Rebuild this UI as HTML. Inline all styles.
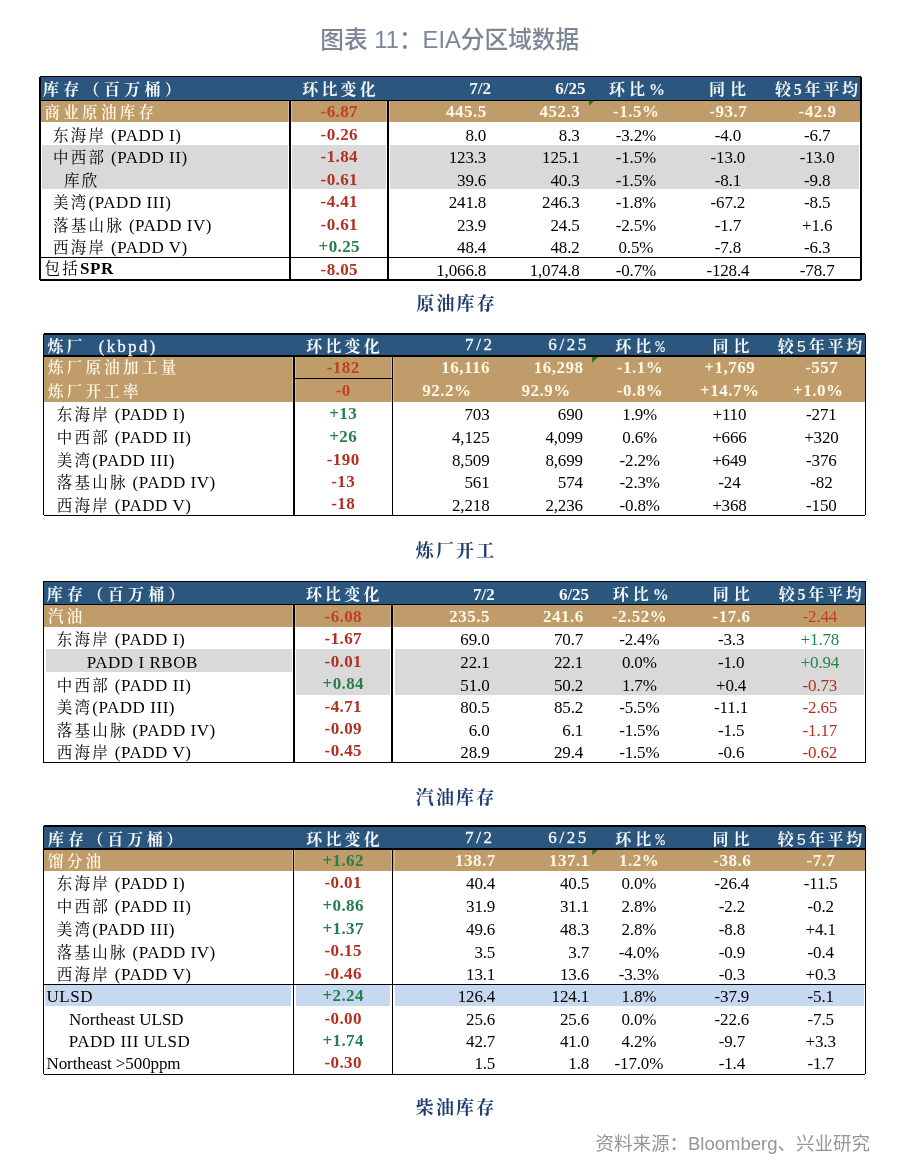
<!DOCTYPE html>
<html><head><meta charset="utf-8"><title>EIA分区域数据</title>
<style>
html,body{margin:0;padding:0;background:#fff;}
body{width:900px;height:1171px;position:relative;overflow:hidden;}
.r{position:absolute;}
.t{position:absolute;white-space:nowrap;line-height:30px;height:30px;}
.c{font-size:15.5px;letter-spacing:2.3px;}
</style></head><body>
<div class="t" style="left:249.8px;width:400px;text-align:center;top:24.8px;font-size:23.7px;color:#7b8696;font-weight:500;letter-spacing:0px;font-family:'Liberation Sans', 'Noto Sans CJK SC', sans-serif;">图表 11：EIA分区域数据</div>
<div class="r" style="left:40.0px;top:76.5px;width:821.0px;height:23.7px;background:#2b567e"></div>
<div class="r" style="left:40.0px;top:100.5px;width:250.0px;height:21.0px;background:#bf9c69"></div>
<div class="r" style="left:290.0px;top:100.5px;width:571.0px;height:21.0px;background:#bf9c69"></div>
<div class="r" style="left:42.0px;top:145.0px;width:245.8px;height:22.0px;background:#d9d9d9"></div>
<div class="r" style="left:292.2px;top:145.0px;width:93.8px;height:22.0px;background:#d9d9d9"></div>
<div class="r" style="left:390.4px;top:145.0px;width:469.1px;height:22.0px;background:#d9d9d9"></div>
<div class="r" style="left:42.0px;top:167.0px;width:245.8px;height:22.0px;background:#d9d9d9"></div>
<div class="r" style="left:292.2px;top:167.0px;width:93.8px;height:22.0px;background:#d9d9d9"></div>
<div class="r" style="left:390.4px;top:167.0px;width:469.1px;height:22.0px;background:#d9d9d9"></div>
<div class="r" style="left:288.1px;top:100.5px;width:1.0px;height:21.0px;background:#d8bc8e"></div>
<div class="r" style="left:290.9px;top:100.5px;width:1.0px;height:21.0px;background:#d8bc8e"></div>
<div class="r" style="left:386.3px;top:100.5px;width:1.0px;height:21.0px;background:#d8bc8e"></div>
<div class="r" style="left:389.1px;top:100.5px;width:1.0px;height:21.0px;background:#d8bc8e"></div>
<div class="r" style="left:40.0px;top:75.8px;width:821.0px;height:1.5px;background:#000"></div>
<div class="r" style="left:40.0px;top:99.5px;width:821.0px;height:1.5px;background:#000"></div>
<div class="r" style="left:40.0px;top:279.1px;width:821.0px;height:1.5px;background:#000"></div>
<div class="r" style="left:39.3px;top:76.5px;width:1.4px;height:203.4px;background:#000"></div>
<div class="r" style="left:860.3px;top:76.5px;width:1.4px;height:203.4px;background:#000"></div>
<div class="r" style="left:289.1px;top:100.2px;width:1.8px;height:179.7px;background:#000"></div>
<div class="r" style="left:387.3px;top:100.2px;width:1.8px;height:179.7px;background:#000"></div>
<div class="r" style="left:40.0px;top:256.6px;width:821.0px;height:1.5px;background:#000"></div>
<div class="t" style="left:43.0px;top:74.6px;font-size:16px;color:#f4f8fc;font-weight:bold;letter-spacing:4.3px;font-family:'Liberation Serif', 'Noto Serif CJK SC', serif;">库存（百万桶）</div>
<div class="t" style="left:140.6px;width:400px;text-align:center;top:74.6px;font-size:16px;color:#f4f8fc;font-weight:bold;letter-spacing:3.2px;font-family:'Liberation Serif', 'Noto Serif CJK SC', serif;">环比变化</div>
<div class="t" style="right:409.0px;text-align:right;top:74.3px;font-size:17px;color:#f4f8fc;font-weight:bold;letter-spacing:0px;font-family:'Liberation Serif', 'Noto Serif CJK SC', serif;">7/2</div>
<div class="t" style="right:314.6px;text-align:right;top:74.3px;font-size:17px;color:#f4f8fc;font-weight:bold;letter-spacing:0px;font-family:'Liberation Serif', 'Noto Serif CJK SC', serif;">6/25</div>
<div class="t" style="left:439.0px;width:400px;text-align:center;top:74.6px;font-size:16px;color:#f4f8fc;font-weight:bold;letter-spacing:4px;font-family:'Liberation Serif', 'Noto Serif CJK SC', serif;">环比%</div>
<div class="t" style="left:530.0px;width:400px;text-align:center;top:74.6px;font-size:16px;color:#f4f8fc;font-weight:bold;letter-spacing:5px;font-family:'Liberation Serif', 'Noto Serif CJK SC', serif;">同比</div>
<div class="t" style="left:617.9px;width:400px;text-align:center;top:74.6px;font-size:16px;color:#f4f8fc;font-weight:bold;letter-spacing:2.75px;font-family:'Liberation Serif', 'Noto Serif CJK SC', serif;">较5年平均</div>
<div class="t" style="left:44.5px;top:97.9px;font-size:15.5px;color:#fff8e8;font-weight:600;letter-spacing:3.3px;font-family:'Liberation Serif', 'Noto Serif CJK SC', serif;">商业原油库存</div>
<div class="t" style="left:139.3px;width:400px;text-align:center;top:97.1px;font-size:17px;color:#c4401c;font-weight:bold;letter-spacing:0.4px;font-family:'Liberation Serif', 'Noto Serif CJK SC', serif;">-6.87</div>
<div class="t" style="right:413.2px;text-align:right;top:97.1px;font-size:17px;color:#fff8e8;font-weight:bold;letter-spacing:0.5px;font-family:'Liberation Serif', 'Noto Serif CJK SC', serif;">445.5</div>
<div class="t" style="right:319.7px;text-align:right;top:97.1px;font-size:17px;color:#fff8e8;font-weight:bold;letter-spacing:0.5px;font-family:'Liberation Serif', 'Noto Serif CJK SC', serif;">452.3</div>
<div class="t" style="left:436.2px;width:400px;text-align:center;top:97.1px;font-size:17px;color:#fff8e8;font-weight:bold;letter-spacing:0.5px;font-family:'Liberation Serif', 'Noto Serif CJK SC', serif;">-1.5%</div>
<div class="t" style="left:528.2px;width:400px;text-align:center;top:97.1px;font-size:17px;color:#fff8e8;font-weight:bold;letter-spacing:0.5px;font-family:'Liberation Serif', 'Noto Serif CJK SC', serif;">-93.7</div>
<div class="t" style="left:617.5px;width:400px;text-align:center;top:97.1px;font-size:17px;color:#fff8e8;font-weight:bold;letter-spacing:0.5px;font-family:'Liberation Serif', 'Noto Serif CJK SC', serif;">-42.9</div>
<div class="t" style="left:53.0px;top:120.7px;font-size:17px;color:#000;font-weight:normal;letter-spacing:0.55px;font-family:'Liberation Serif', 'Noto Serif CJK SC', serif;"><span class="c">东海岸</span><span style="display:inline-block;width:4.7px"></span>(PADD I)</div>
<div class="t" style="left:139.3px;width:400px;text-align:center;top:119.5px;font-size:17px;color:#b03022;font-weight:bold;letter-spacing:0.4px;font-family:'Liberation Serif', 'Noto Serif CJK SC', serif;">-0.26</div>
<div class="t" style="right:413.8px;text-align:right;top:120.7px;font-size:17px;color:#000;font-weight:normal;letter-spacing:-0.15px;font-family:'Liberation Serif', 'Noto Serif CJK SC', serif;">8.0</div>
<div class="t" style="right:320.4px;text-align:right;top:120.7px;font-size:17px;color:#000;font-weight:normal;letter-spacing:-0.15px;font-family:'Liberation Serif', 'Noto Serif CJK SC', serif;">8.3</div>
<div class="t" style="left:435.9px;width:400px;text-align:center;top:120.7px;font-size:17px;color:#000;font-weight:normal;letter-spacing:-0.15px;font-family:'Liberation Serif', 'Noto Serif CJK SC', serif;">-3.2%</div>
<div class="t" style="left:527.9px;width:400px;text-align:center;top:120.7px;font-size:17px;color:#000;font-weight:normal;letter-spacing:-0.15px;font-family:'Liberation Serif', 'Noto Serif CJK SC', serif;">-4.0</div>
<div class="t" style="left:617.2px;width:400px;text-align:center;top:120.7px;font-size:17px;color:#000;font-weight:normal;letter-spacing:-0.15px;font-family:'Liberation Serif', 'Noto Serif CJK SC', serif;">-6.7</div>
<div class="t" style="left:53.0px;top:143.1px;font-size:17px;color:#000;font-weight:normal;letter-spacing:0.55px;font-family:'Liberation Serif', 'Noto Serif CJK SC', serif;"><span class="c">中西部</span><span style="display:inline-block;width:4.7px"></span>(PADD II)</div>
<div class="t" style="left:139.3px;width:400px;text-align:center;top:141.9px;font-size:17px;color:#b03022;font-weight:bold;letter-spacing:0.4px;font-family:'Liberation Serif', 'Noto Serif CJK SC', serif;">-1.84</div>
<div class="t" style="right:413.8px;text-align:right;top:143.1px;font-size:17px;color:#000;font-weight:normal;letter-spacing:-0.15px;font-family:'Liberation Serif', 'Noto Serif CJK SC', serif;">123.3</div>
<div class="t" style="right:320.4px;text-align:right;top:143.1px;font-size:17px;color:#000;font-weight:normal;letter-spacing:-0.15px;font-family:'Liberation Serif', 'Noto Serif CJK SC', serif;">125.1</div>
<div class="t" style="left:435.9px;width:400px;text-align:center;top:143.1px;font-size:17px;color:#000;font-weight:normal;letter-spacing:-0.15px;font-family:'Liberation Serif', 'Noto Serif CJK SC', serif;">-1.5%</div>
<div class="t" style="left:527.9px;width:400px;text-align:center;top:143.1px;font-size:17px;color:#000;font-weight:normal;letter-spacing:-0.15px;font-family:'Liberation Serif', 'Noto Serif CJK SC', serif;">-13.0</div>
<div class="t" style="left:617.2px;width:400px;text-align:center;top:143.1px;font-size:17px;color:#000;font-weight:normal;letter-spacing:-0.15px;font-family:'Liberation Serif', 'Noto Serif CJK SC', serif;">-13.0</div>
<div class="t" style="left:64.0px;top:165.8px;font-size:17px;color:#000;font-weight:normal;letter-spacing:2px;font-family:'Liberation Serif', 'Noto Serif CJK SC', serif;"><span class="c">库欣</span></div>
<div class="t" style="left:139.3px;width:400px;text-align:center;top:164.6px;font-size:17px;color:#b03022;font-weight:bold;letter-spacing:0.4px;font-family:'Liberation Serif', 'Noto Serif CJK SC', serif;">-0.61</div>
<div class="t" style="right:413.8px;text-align:right;top:165.8px;font-size:17px;color:#000;font-weight:normal;letter-spacing:-0.15px;font-family:'Liberation Serif', 'Noto Serif CJK SC', serif;">39.6</div>
<div class="t" style="right:320.4px;text-align:right;top:165.8px;font-size:17px;color:#000;font-weight:normal;letter-spacing:-0.15px;font-family:'Liberation Serif', 'Noto Serif CJK SC', serif;">40.3</div>
<div class="t" style="left:435.9px;width:400px;text-align:center;top:165.8px;font-size:17px;color:#000;font-weight:normal;letter-spacing:-0.15px;font-family:'Liberation Serif', 'Noto Serif CJK SC', serif;">-1.5%</div>
<div class="t" style="left:527.9px;width:400px;text-align:center;top:165.8px;font-size:17px;color:#000;font-weight:normal;letter-spacing:-0.15px;font-family:'Liberation Serif', 'Noto Serif CJK SC', serif;">-8.1</div>
<div class="t" style="left:617.2px;width:400px;text-align:center;top:165.8px;font-size:17px;color:#000;font-weight:normal;letter-spacing:-0.15px;font-family:'Liberation Serif', 'Noto Serif CJK SC', serif;">-9.8</div>
<div class="t" style="left:53.0px;top:188.2px;font-size:17px;color:#000;font-weight:normal;letter-spacing:0.55px;font-family:'Liberation Serif', 'Noto Serif CJK SC', serif;"><span class="c">美湾</span>(PADD III)</div>
<div class="t" style="left:139.3px;width:400px;text-align:center;top:187.0px;font-size:17px;color:#b03022;font-weight:bold;letter-spacing:0.4px;font-family:'Liberation Serif', 'Noto Serif CJK SC', serif;">-4.41</div>
<div class="t" style="right:413.8px;text-align:right;top:188.2px;font-size:17px;color:#000;font-weight:normal;letter-spacing:-0.15px;font-family:'Liberation Serif', 'Noto Serif CJK SC', serif;">241.8</div>
<div class="t" style="right:320.4px;text-align:right;top:188.2px;font-size:17px;color:#000;font-weight:normal;letter-spacing:-0.15px;font-family:'Liberation Serif', 'Noto Serif CJK SC', serif;">246.3</div>
<div class="t" style="left:435.9px;width:400px;text-align:center;top:188.2px;font-size:17px;color:#000;font-weight:normal;letter-spacing:-0.15px;font-family:'Liberation Serif', 'Noto Serif CJK SC', serif;">-1.8%</div>
<div class="t" style="left:527.9px;width:400px;text-align:center;top:188.2px;font-size:17px;color:#000;font-weight:normal;letter-spacing:-0.15px;font-family:'Liberation Serif', 'Noto Serif CJK SC', serif;">-67.2</div>
<div class="t" style="left:617.2px;width:400px;text-align:center;top:188.2px;font-size:17px;color:#000;font-weight:normal;letter-spacing:-0.15px;font-family:'Liberation Serif', 'Noto Serif CJK SC', serif;">-8.5</div>
<div class="t" style="left:53.0px;top:210.9px;font-size:17px;color:#000;font-weight:normal;letter-spacing:0.55px;font-family:'Liberation Serif', 'Noto Serif CJK SC', serif;"><span class="c">落基山脉</span><span style="display:inline-block;width:4.7px"></span>(PADD IV)</div>
<div class="t" style="left:139.3px;width:400px;text-align:center;top:209.7px;font-size:17px;color:#b03022;font-weight:bold;letter-spacing:0.4px;font-family:'Liberation Serif', 'Noto Serif CJK SC', serif;">-0.61</div>
<div class="t" style="right:413.8px;text-align:right;top:210.9px;font-size:17px;color:#000;font-weight:normal;letter-spacing:-0.15px;font-family:'Liberation Serif', 'Noto Serif CJK SC', serif;">23.9</div>
<div class="t" style="right:320.4px;text-align:right;top:210.9px;font-size:17px;color:#000;font-weight:normal;letter-spacing:-0.15px;font-family:'Liberation Serif', 'Noto Serif CJK SC', serif;">24.5</div>
<div class="t" style="left:435.9px;width:400px;text-align:center;top:210.9px;font-size:17px;color:#000;font-weight:normal;letter-spacing:-0.15px;font-family:'Liberation Serif', 'Noto Serif CJK SC', serif;">-2.5%</div>
<div class="t" style="left:527.9px;width:400px;text-align:center;top:210.9px;font-size:17px;color:#000;font-weight:normal;letter-spacing:-0.15px;font-family:'Liberation Serif', 'Noto Serif CJK SC', serif;">-1.7</div>
<div class="t" style="left:617.2px;width:400px;text-align:center;top:210.9px;font-size:17px;color:#000;font-weight:normal;letter-spacing:-0.15px;font-family:'Liberation Serif', 'Noto Serif CJK SC', serif;">+1.6</div>
<div class="t" style="left:53.0px;top:233.2px;font-size:17px;color:#000;font-weight:normal;letter-spacing:0.55px;font-family:'Liberation Serif', 'Noto Serif CJK SC', serif;"><span class="c">西海岸</span><span style="display:inline-block;width:4.7px"></span>(PADD V)</div>
<div class="t" style="left:139.3px;width:400px;text-align:center;top:232.0px;font-size:17px;color:#257f4b;font-weight:bold;letter-spacing:0.4px;font-family:'Liberation Serif', 'Noto Serif CJK SC', serif;">+0.25</div>
<div class="t" style="right:413.8px;text-align:right;top:233.2px;font-size:17px;color:#000;font-weight:normal;letter-spacing:-0.15px;font-family:'Liberation Serif', 'Noto Serif CJK SC', serif;">48.4</div>
<div class="t" style="right:320.4px;text-align:right;top:233.2px;font-size:17px;color:#000;font-weight:normal;letter-spacing:-0.15px;font-family:'Liberation Serif', 'Noto Serif CJK SC', serif;">48.2</div>
<div class="t" style="left:435.9px;width:400px;text-align:center;top:233.2px;font-size:17px;color:#000;font-weight:normal;letter-spacing:-0.15px;font-family:'Liberation Serif', 'Noto Serif CJK SC', serif;">0.5%</div>
<div class="t" style="left:527.9px;width:400px;text-align:center;top:233.2px;font-size:17px;color:#000;font-weight:normal;letter-spacing:-0.15px;font-family:'Liberation Serif', 'Noto Serif CJK SC', serif;">-7.8</div>
<div class="t" style="left:617.2px;width:400px;text-align:center;top:233.2px;font-size:17px;color:#000;font-weight:normal;letter-spacing:-0.15px;font-family:'Liberation Serif', 'Noto Serif CJK SC', serif;">-6.3</div>
<div class="t" style="left:44.5px;top:254.4px;font-size:17px;color:#000;font-weight:normal;letter-spacing:0.55px;font-family:'Liberation Serif', 'Noto Serif CJK SC', serif;"><span class="c">包括</span><b>SPR</b></div>
<div class="t" style="left:139.3px;width:400px;text-align:center;top:254.7px;font-size:17px;color:#b03022;font-weight:bold;letter-spacing:0.4px;font-family:'Liberation Serif', 'Noto Serif CJK SC', serif;">-8.05</div>
<div class="t" style="right:413.8px;text-align:right;top:255.9px;font-size:17px;color:#000;font-weight:normal;letter-spacing:-0.15px;font-family:'Liberation Serif', 'Noto Serif CJK SC', serif;">1,066.8</div>
<div class="t" style="right:320.4px;text-align:right;top:255.9px;font-size:17px;color:#000;font-weight:normal;letter-spacing:-0.15px;font-family:'Liberation Serif', 'Noto Serif CJK SC', serif;">1,074.8</div>
<div class="t" style="left:435.9px;width:400px;text-align:center;top:255.9px;font-size:17px;color:#000;font-weight:normal;letter-spacing:-0.15px;font-family:'Liberation Serif', 'Noto Serif CJK SC', serif;">-0.7%</div>
<div class="t" style="left:527.9px;width:400px;text-align:center;top:255.9px;font-size:17px;color:#000;font-weight:normal;letter-spacing:-0.15px;font-family:'Liberation Serif', 'Noto Serif CJK SC', serif;">-128.4</div>
<div class="t" style="left:617.2px;width:400px;text-align:center;top:255.9px;font-size:17px;color:#000;font-weight:normal;letter-spacing:-0.15px;font-family:'Liberation Serif', 'Noto Serif CJK SC', serif;">-78.7</div>
<div class="r" style="left:589.0px;top:100.6px;width:5.5px;height:5.5px;background:#2a7a1a;clip-path:polygon(0 0,100% 0,0 100%)"></div>
<div class="t" style="left:256.6px;width:400px;text-align:center;top:289.0px;font-size:18px;color:#1f3b70;font-weight:bold;letter-spacing:2.2px;font-family:'Liberation Serif', 'Noto Serif CJK SC', serif;">原油库存</div>
<div class="r" style="left:43.7px;top:333.8px;width:821.6px;height:22.2px;background:#2b567e"></div>
<div class="r" style="left:43.7px;top:356.5px;width:821.6px;height:22.0px;background:#bf9c69"></div>
<div class="r" style="left:43.7px;top:378.5px;width:821.6px;height:23.0px;background:#bf9c69"></div>
<div class="r" style="left:291.8px;top:356.5px;width:1.0px;height:22.0px;background:#d8bc8e"></div>
<div class="r" style="left:294.6px;top:356.5px;width:1.0px;height:22.0px;background:#d8bc8e"></div>
<div class="r" style="left:390.5px;top:356.5px;width:1.0px;height:22.0px;background:#d8bc8e"></div>
<div class="r" style="left:393.3px;top:356.5px;width:1.0px;height:22.0px;background:#d8bc8e"></div>
<div class="r" style="left:291.8px;top:378.5px;width:1.0px;height:23.0px;background:#d8bc8e"></div>
<div class="r" style="left:294.6px;top:378.5px;width:1.0px;height:23.0px;background:#d8bc8e"></div>
<div class="r" style="left:390.5px;top:378.5px;width:1.0px;height:23.0px;background:#d8bc8e"></div>
<div class="r" style="left:393.3px;top:378.5px;width:1.0px;height:23.0px;background:#d8bc8e"></div>
<div class="r" style="left:43.7px;top:333.1px;width:821.6px;height:1.5px;background:#000"></div>
<div class="r" style="left:43.7px;top:355.2px;width:821.6px;height:1.5px;background:#000"></div>
<div class="r" style="left:43.7px;top:514.5px;width:821.6px;height:1.5px;background:#000"></div>
<div class="r" style="left:43.0px;top:333.8px;width:1.4px;height:181.4px;background:#000"></div>
<div class="r" style="left:864.6px;top:333.8px;width:1.4px;height:181.4px;background:#000"></div>
<div class="r" style="left:292.8px;top:356.0px;width:1.8px;height:159.2px;background:#000"></div>
<div class="r" style="left:391.5px;top:356.0px;width:1.8px;height:159.2px;background:#000"></div>
<div class="r" style="left:293.7px;top:377.6px;width:98.7px;height:1.5px;background:#000"></div>
<div class="t" style="left:47.5px;top:331.9px;font-size:16px;color:#f4f8fc;font-weight:bold;letter-spacing:2.9px;font-family:'Liberation Serif', 'Noto Serif CJK SC', serif;">炼厂<span style="font-family:Liberation Serif, serif;font-size:16.5px;letter-spacing:2.5px;font-weight:normal;margin-left:13.5px;-webkit-text-stroke:0.3px #f4f8fc">(kbpd)</span></div>
<div class="t" style="left:144.6px;width:400px;text-align:center;top:331.9px;font-size:16px;color:#f4f8fc;font-weight:bold;letter-spacing:3.2px;font-family:'Liberation Serif', 'Noto Serif CJK SC', serif;">环比变化</div>
<div class="t" style="right:405.4px;text-align:right;top:330.0px;font-size:17px;color:#f4f8fc;font-weight:normal;letter-spacing:2.6px;font-family:'Liberation Serif', 'Noto Serif CJK SC', serif;-webkit-text-stroke:0.3px #f4f8fc;">7/2</div>
<div class="t" style="right:311.1px;text-align:right;top:330.0px;font-size:17px;color:#f4f8fc;font-weight:normal;letter-spacing:2.6px;font-family:'Liberation Serif', 'Noto Serif CJK SC', serif;-webkit-text-stroke:0.3px #f4f8fc;">6/25</div>
<div class="t" style="left:442.0px;width:400px;text-align:center;top:331.9px;font-size:16px;color:#f4f8fc;font-weight:bold;letter-spacing:4px;font-family:'Liberation Serif', 'Noto Serif CJK SC', serif;">环比<span style="font-family:Liberation Mono, monospace;font-weight:normal">%</span></div>
<div class="t" style="left:533.5px;width:400px;text-align:center;top:331.9px;font-size:16px;color:#f4f8fc;font-weight:bold;letter-spacing:5px;font-family:'Liberation Serif', 'Noto Serif CJK SC', serif;">同比</div>
<div class="t" style="left:621.4px;width:400px;text-align:center;top:331.9px;font-size:16px;color:#f4f8fc;font-weight:bold;letter-spacing:2.75px;font-family:'Liberation Serif', 'Noto Serif CJK SC', serif;">较<span style="font-family:Liberation Mono, monospace;font-weight:normal">5</span>年平均</div>
<div class="t" style="left:47.9px;top:353.4px;font-size:15.5px;color:#fff8e8;font-weight:600;letter-spacing:3.3px;font-family:'Liberation Serif', 'Noto Serif CJK SC', serif;">炼厂原油加工量</div>
<div class="t" style="left:143.2px;width:400px;text-align:center;top:352.6px;font-size:17px;color:#c4401c;font-weight:bold;letter-spacing:0.4px;font-family:'Liberation Serif', 'Noto Serif CJK SC', serif;">-182</div>
<div class="t" style="right:409.9px;text-align:right;top:352.6px;font-size:17px;color:#fff8e8;font-weight:bold;letter-spacing:0.5px;font-family:'Liberation Serif', 'Noto Serif CJK SC', serif;">16,116</div>
<div class="t" style="right:316.5px;text-align:right;top:352.6px;font-size:17px;color:#fff8e8;font-weight:bold;letter-spacing:0.5px;font-family:'Liberation Serif', 'Noto Serif CJK SC', serif;">16,298</div>
<div class="t" style="left:440.0px;width:400px;text-align:center;top:352.6px;font-size:17px;color:#fff8e8;font-weight:bold;letter-spacing:0.5px;font-family:'Liberation Serif', 'Noto Serif CJK SC', serif;">-1.1%</div>
<div class="t" style="left:529.8px;width:400px;text-align:center;top:352.6px;font-size:17px;color:#fff8e8;font-weight:bold;letter-spacing:0.5px;font-family:'Liberation Serif', 'Noto Serif CJK SC', serif;">+1,769</div>
<div class="t" style="left:621.8px;width:400px;text-align:center;top:352.6px;font-size:17px;color:#fff8e8;font-weight:bold;letter-spacing:0.5px;font-family:'Liberation Serif', 'Noto Serif CJK SC', serif;">-557</div>
<div class="t" style="left:47.9px;top:376.6px;font-size:15.5px;color:#fff8e8;font-weight:600;letter-spacing:3.3px;font-family:'Liberation Serif', 'Noto Serif CJK SC', serif;">炼厂开工率</div>
<div class="t" style="left:143.2px;width:400px;text-align:center;top:375.8px;font-size:17px;color:#c4401c;font-weight:bold;letter-spacing:0.4px;font-family:'Liberation Serif', 'Noto Serif CJK SC', serif;">-0</div>
<div class="t" style="right:428.5px;text-align:right;top:375.8px;font-size:17px;color:#fff8e8;font-weight:bold;letter-spacing:0.5px;font-family:'Liberation Serif', 'Noto Serif CJK SC', serif;">92.2%</div>
<div class="t" style="right:329.2px;text-align:right;top:375.8px;font-size:17px;color:#fff8e8;font-weight:bold;letter-spacing:0.5px;font-family:'Liberation Serif', 'Noto Serif CJK SC', serif;">92.9%</div>
<div class="t" style="left:440.0px;width:400px;text-align:center;top:375.8px;font-size:17px;color:#fff8e8;font-weight:bold;letter-spacing:0.5px;font-family:'Liberation Serif', 'Noto Serif CJK SC', serif;">-0.8%</div>
<div class="t" style="left:529.8px;width:400px;text-align:center;top:375.8px;font-size:17px;color:#fff8e8;font-weight:bold;letter-spacing:0.5px;font-family:'Liberation Serif', 'Noto Serif CJK SC', serif;">+14.7%</div>
<div class="t" style="left:618.2px;width:400px;text-align:center;top:375.8px;font-size:17px;color:#fff8e8;font-weight:bold;letter-spacing:0.5px;font-family:'Liberation Serif', 'Noto Serif CJK SC', serif;">+1.0%</div>
<div class="t" style="left:56.7px;top:400.4px;font-size:17px;color:#000;font-weight:normal;letter-spacing:0.55px;font-family:'Liberation Serif', 'Noto Serif CJK SC', serif;"><span class="c">东海岸</span><span style="display:inline-block;width:4.7px"></span>(PADD I)</div>
<div class="t" style="left:143.2px;width:400px;text-align:center;top:399.2px;font-size:17px;color:#257f4b;font-weight:bold;letter-spacing:0.4px;font-family:'Liberation Serif', 'Noto Serif CJK SC', serif;">+13</div>
<div class="t" style="right:410.5px;text-align:right;top:400.4px;font-size:17px;color:#000;font-weight:normal;letter-spacing:-0.15px;font-family:'Liberation Serif', 'Noto Serif CJK SC', serif;">703</div>
<div class="t" style="right:317.1px;text-align:right;top:400.4px;font-size:17px;color:#000;font-weight:normal;letter-spacing:-0.15px;font-family:'Liberation Serif', 'Noto Serif CJK SC', serif;">690</div>
<div class="t" style="left:439.7px;width:400px;text-align:center;top:400.4px;font-size:17px;color:#000;font-weight:normal;letter-spacing:-0.15px;font-family:'Liberation Serif', 'Noto Serif CJK SC', serif;">1.9%</div>
<div class="t" style="left:529.4px;width:400px;text-align:center;top:400.4px;font-size:17px;color:#000;font-weight:normal;letter-spacing:-0.15px;font-family:'Liberation Serif', 'Noto Serif CJK SC', serif;">+110</div>
<div class="t" style="left:621.4px;width:400px;text-align:center;top:400.4px;font-size:17px;color:#000;font-weight:normal;letter-spacing:-0.15px;font-family:'Liberation Serif', 'Noto Serif CJK SC', serif;">-271</div>
<div class="t" style="left:56.7px;top:423.1px;font-size:17px;color:#000;font-weight:normal;letter-spacing:0.55px;font-family:'Liberation Serif', 'Noto Serif CJK SC', serif;"><span class="c">中西部</span><span style="display:inline-block;width:4.7px"></span>(PADD II)</div>
<div class="t" style="left:143.2px;width:400px;text-align:center;top:421.9px;font-size:17px;color:#257f4b;font-weight:bold;letter-spacing:0.4px;font-family:'Liberation Serif', 'Noto Serif CJK SC', serif;">+26</div>
<div class="t" style="right:410.5px;text-align:right;top:423.1px;font-size:17px;color:#000;font-weight:normal;letter-spacing:-0.15px;font-family:'Liberation Serif', 'Noto Serif CJK SC', serif;">4,125</div>
<div class="t" style="right:317.1px;text-align:right;top:423.1px;font-size:17px;color:#000;font-weight:normal;letter-spacing:-0.15px;font-family:'Liberation Serif', 'Noto Serif CJK SC', serif;">4,099</div>
<div class="t" style="left:439.7px;width:400px;text-align:center;top:423.1px;font-size:17px;color:#000;font-weight:normal;letter-spacing:-0.15px;font-family:'Liberation Serif', 'Noto Serif CJK SC', serif;">0.6%</div>
<div class="t" style="left:529.4px;width:400px;text-align:center;top:423.1px;font-size:17px;color:#000;font-weight:normal;letter-spacing:-0.15px;font-family:'Liberation Serif', 'Noto Serif CJK SC', serif;">+666</div>
<div class="t" style="left:621.4px;width:400px;text-align:center;top:423.1px;font-size:17px;color:#000;font-weight:normal;letter-spacing:-0.15px;font-family:'Liberation Serif', 'Noto Serif CJK SC', serif;">+320</div>
<div class="t" style="left:56.7px;top:445.8px;font-size:17px;color:#000;font-weight:normal;letter-spacing:0.55px;font-family:'Liberation Serif', 'Noto Serif CJK SC', serif;"><span class="c">美湾</span>(PADD III)</div>
<div class="t" style="left:143.2px;width:400px;text-align:center;top:444.6px;font-size:17px;color:#b03022;font-weight:bold;letter-spacing:0.4px;font-family:'Liberation Serif', 'Noto Serif CJK SC', serif;">-190</div>
<div class="t" style="right:410.5px;text-align:right;top:445.8px;font-size:17px;color:#000;font-weight:normal;letter-spacing:-0.15px;font-family:'Liberation Serif', 'Noto Serif CJK SC', serif;">8,509</div>
<div class="t" style="right:317.1px;text-align:right;top:445.8px;font-size:17px;color:#000;font-weight:normal;letter-spacing:-0.15px;font-family:'Liberation Serif', 'Noto Serif CJK SC', serif;">8,699</div>
<div class="t" style="left:439.7px;width:400px;text-align:center;top:445.8px;font-size:17px;color:#000;font-weight:normal;letter-spacing:-0.15px;font-family:'Liberation Serif', 'Noto Serif CJK SC', serif;">-2.2%</div>
<div class="t" style="left:529.4px;width:400px;text-align:center;top:445.8px;font-size:17px;color:#000;font-weight:normal;letter-spacing:-0.15px;font-family:'Liberation Serif', 'Noto Serif CJK SC', serif;">+649</div>
<div class="t" style="left:621.4px;width:400px;text-align:center;top:445.8px;font-size:17px;color:#000;font-weight:normal;letter-spacing:-0.15px;font-family:'Liberation Serif', 'Noto Serif CJK SC', serif;">-376</div>
<div class="t" style="left:56.7px;top:468.1px;font-size:17px;color:#000;font-weight:normal;letter-spacing:0.55px;font-family:'Liberation Serif', 'Noto Serif CJK SC', serif;"><span class="c">落基山脉</span><span style="display:inline-block;width:4.7px"></span>(PADD IV)</div>
<div class="t" style="left:143.2px;width:400px;text-align:center;top:466.9px;font-size:17px;color:#b03022;font-weight:bold;letter-spacing:0.4px;font-family:'Liberation Serif', 'Noto Serif CJK SC', serif;">-13</div>
<div class="t" style="right:410.5px;text-align:right;top:468.1px;font-size:17px;color:#000;font-weight:normal;letter-spacing:-0.15px;font-family:'Liberation Serif', 'Noto Serif CJK SC', serif;">561</div>
<div class="t" style="right:317.1px;text-align:right;top:468.1px;font-size:17px;color:#000;font-weight:normal;letter-spacing:-0.15px;font-family:'Liberation Serif', 'Noto Serif CJK SC', serif;">574</div>
<div class="t" style="left:439.7px;width:400px;text-align:center;top:468.1px;font-size:17px;color:#000;font-weight:normal;letter-spacing:-0.15px;font-family:'Liberation Serif', 'Noto Serif CJK SC', serif;">-2.3%</div>
<div class="t" style="left:529.4px;width:400px;text-align:center;top:468.1px;font-size:17px;color:#000;font-weight:normal;letter-spacing:-0.15px;font-family:'Liberation Serif', 'Noto Serif CJK SC', serif;">-24</div>
<div class="t" style="left:621.4px;width:400px;text-align:center;top:468.1px;font-size:17px;color:#000;font-weight:normal;letter-spacing:-0.15px;font-family:'Liberation Serif', 'Noto Serif CJK SC', serif;">-82</div>
<div class="t" style="left:56.7px;top:490.5px;font-size:17px;color:#000;font-weight:normal;letter-spacing:0.55px;font-family:'Liberation Serif', 'Noto Serif CJK SC', serif;"><span class="c">西海岸</span><span style="display:inline-block;width:4.7px"></span>(PADD V)</div>
<div class="t" style="left:143.2px;width:400px;text-align:center;top:489.3px;font-size:17px;color:#b03022;font-weight:bold;letter-spacing:0.4px;font-family:'Liberation Serif', 'Noto Serif CJK SC', serif;">-18</div>
<div class="t" style="right:410.5px;text-align:right;top:490.5px;font-size:17px;color:#000;font-weight:normal;letter-spacing:-0.15px;font-family:'Liberation Serif', 'Noto Serif CJK SC', serif;">2,218</div>
<div class="t" style="right:317.1px;text-align:right;top:490.5px;font-size:17px;color:#000;font-weight:normal;letter-spacing:-0.15px;font-family:'Liberation Serif', 'Noto Serif CJK SC', serif;">2,236</div>
<div class="t" style="left:439.7px;width:400px;text-align:center;top:490.5px;font-size:17px;color:#000;font-weight:normal;letter-spacing:-0.15px;font-family:'Liberation Serif', 'Noto Serif CJK SC', serif;">-0.8%</div>
<div class="t" style="left:529.4px;width:400px;text-align:center;top:490.5px;font-size:17px;color:#000;font-weight:normal;letter-spacing:-0.15px;font-family:'Liberation Serif', 'Noto Serif CJK SC', serif;">+368</div>
<div class="t" style="left:621.4px;width:400px;text-align:center;top:490.5px;font-size:17px;color:#000;font-weight:normal;letter-spacing:-0.15px;font-family:'Liberation Serif', 'Noto Serif CJK SC', serif;">-150</div>
<div class="r" style="left:592.0px;top:356.8px;width:6.5px;height:6.0px;background:#2a7a1a;clip-path:polygon(0 0,100% 0,0 100%)"></div>
<div class="t" style="left:256.1px;width:400px;text-align:center;top:535.9px;font-size:18px;color:#1f3b70;font-weight:bold;letter-spacing:2.2px;font-family:'Liberation Serif', 'Noto Serif CJK SC', serif;">炼厂开工</div>
<div class="r" style="left:43.7px;top:581.3px;width:821.6px;height:23.0px;background:#2b567e"></div>
<div class="r" style="left:43.7px;top:605.0px;width:821.6px;height:21.5px;background:#bf9c69"></div>
<div class="r" style="left:46.0px;top:649.4px;width:245.7px;height:22.6px;background:#d9d9d9"></div>
<div class="r" style="left:296.1px;top:649.4px;width:94.0px;height:22.6px;background:#d9d9d9"></div>
<div class="r" style="left:394.5px;top:649.4px;width:469.3px;height:22.6px;background:#d9d9d9"></div>
<div class="r" style="left:296.1px;top:672.0px;width:94.0px;height:22.5px;background:#d9d9d9"></div>
<div class="r" style="left:394.5px;top:672.0px;width:469.3px;height:22.5px;background:#d9d9d9"></div>
<div class="r" style="left:292.0px;top:605.0px;width:1.0px;height:21.5px;background:#d8bc8e"></div>
<div class="r" style="left:294.8px;top:605.0px;width:1.0px;height:21.5px;background:#d8bc8e"></div>
<div class="r" style="left:390.4px;top:605.0px;width:1.0px;height:21.5px;background:#d8bc8e"></div>
<div class="r" style="left:393.2px;top:605.0px;width:1.0px;height:21.5px;background:#d8bc8e"></div>
<div class="r" style="left:43.7px;top:580.5px;width:821.6px;height:1.5px;background:#000"></div>
<div class="r" style="left:43.7px;top:603.5px;width:821.6px;height:1.5px;background:#000"></div>
<div class="r" style="left:43.7px;top:761.9px;width:821.6px;height:1.5px;background:#000"></div>
<div class="r" style="left:43.0px;top:581.3px;width:1.4px;height:181.3px;background:#000"></div>
<div class="r" style="left:864.6px;top:581.3px;width:1.4px;height:181.3px;background:#000"></div>
<div class="r" style="left:293.0px;top:604.3px;width:1.8px;height:158.3px;background:#000"></div>
<div class="r" style="left:391.4px;top:604.3px;width:1.8px;height:158.3px;background:#000"></div>
<div class="t" style="left:46.8px;top:579.9px;font-size:16px;color:#f4f8fc;font-weight:bold;letter-spacing:4.3px;font-family:'Liberation Serif', 'Noto Serif CJK SC', serif;">库存（百万桶）</div>
<div class="t" style="left:144.3px;width:400px;text-align:center;top:579.9px;font-size:16px;color:#f4f8fc;font-weight:bold;letter-spacing:3.2px;font-family:'Liberation Serif', 'Noto Serif CJK SC', serif;">环比变化</div>
<div class="t" style="right:405.3px;text-align:right;top:579.6px;font-size:17px;color:#f4f8fc;font-weight:bold;letter-spacing:0px;font-family:'Liberation Serif', 'Noto Serif CJK SC', serif;">7/2</div>
<div class="t" style="right:310.9px;text-align:right;top:579.6px;font-size:17px;color:#f4f8fc;font-weight:bold;letter-spacing:0px;font-family:'Liberation Serif', 'Noto Serif CJK SC', serif;">6/25</div>
<div class="t" style="left:442.7px;width:400px;text-align:center;top:579.9px;font-size:16px;color:#f4f8fc;font-weight:bold;letter-spacing:4px;font-family:'Liberation Serif', 'Noto Serif CJK SC', serif;">环比%</div>
<div class="t" style="left:533.7px;width:400px;text-align:center;top:579.9px;font-size:16px;color:#f4f8fc;font-weight:bold;letter-spacing:5px;font-family:'Liberation Serif', 'Noto Serif CJK SC', serif;">同比</div>
<div class="t" style="left:621.6px;width:400px;text-align:center;top:579.9px;font-size:16px;color:#f4f8fc;font-weight:bold;letter-spacing:2.75px;font-family:'Liberation Serif', 'Noto Serif CJK SC', serif;">较5年平均</div>
<div class="t" style="left:47.9px;top:602.4px;font-size:15.5px;color:#fff8e8;font-weight:600;letter-spacing:3.3px;font-family:'Liberation Serif', 'Noto Serif CJK SC', serif;">汽油</div>
<div class="t" style="left:143.3px;width:400px;text-align:center;top:601.6px;font-size:17px;color:#c4401c;font-weight:bold;letter-spacing:0.4px;font-family:'Liberation Serif', 'Noto Serif CJK SC', serif;">-6.08</div>
<div class="t" style="right:409.9px;text-align:right;top:601.6px;font-size:17px;color:#fff8e8;font-weight:bold;letter-spacing:0.5px;font-family:'Liberation Serif', 'Noto Serif CJK SC', serif;">235.5</div>
<div class="t" style="right:316.3px;text-align:right;top:601.6px;font-size:17px;color:#fff8e8;font-weight:bold;letter-spacing:0.5px;font-family:'Liberation Serif', 'Noto Serif CJK SC', serif;">241.6</div>
<div class="t" style="left:439.6px;width:400px;text-align:center;top:601.6px;font-size:17px;color:#fff8e8;font-weight:bold;letter-spacing:0.5px;font-family:'Liberation Serif', 'Noto Serif CJK SC', serif;">-2.52%</div>
<div class="t" style="left:531.5px;width:400px;text-align:center;top:601.6px;font-size:17px;color:#fff8e8;font-weight:bold;letter-spacing:0.5px;font-family:'Liberation Serif', 'Noto Serif CJK SC', serif;">-17.6</div>
<div class="t" style="left:619.9px;width:400px;text-align:center;top:601.6px;font-size:17px;color:#c4401c;font-weight:normal;letter-spacing:-0.15px;font-family:'Liberation Serif', 'Noto Serif CJK SC', serif;">-2.44</div>
<div class="t" style="left:56.7px;top:625.2px;font-size:17px;color:#000;font-weight:normal;letter-spacing:0.55px;font-family:'Liberation Serif', 'Noto Serif CJK SC', serif;"><span class="c">东海岸</span><span style="display:inline-block;width:4.7px"></span>(PADD I)</div>
<div class="t" style="left:143.3px;width:400px;text-align:center;top:624.0px;font-size:17px;color:#b03022;font-weight:bold;letter-spacing:0.4px;font-family:'Liberation Serif', 'Noto Serif CJK SC', serif;">-1.67</div>
<div class="t" style="right:410.5px;text-align:right;top:625.2px;font-size:17px;color:#000;font-weight:normal;letter-spacing:-0.15px;font-family:'Liberation Serif', 'Noto Serif CJK SC', serif;">69.0</div>
<div class="t" style="right:316.9px;text-align:right;top:625.2px;font-size:17px;color:#000;font-weight:normal;letter-spacing:-0.15px;font-family:'Liberation Serif', 'Noto Serif CJK SC', serif;">70.7</div>
<div class="t" style="left:439.3px;width:400px;text-align:center;top:625.2px;font-size:17px;color:#000;font-weight:normal;letter-spacing:-0.15px;font-family:'Liberation Serif', 'Noto Serif CJK SC', serif;">-2.4%</div>
<div class="t" style="left:531.1px;width:400px;text-align:center;top:625.2px;font-size:17px;color:#000;font-weight:normal;letter-spacing:-0.15px;font-family:'Liberation Serif', 'Noto Serif CJK SC', serif;">-3.3</div>
<div class="t" style="left:619.9px;width:400px;text-align:center;top:625.2px;font-size:17px;color:#257f4b;font-weight:normal;letter-spacing:-0.15px;font-family:'Liberation Serif', 'Noto Serif CJK SC', serif;">+1.78</div>
<div class="t" style="left:86.7px;top:647.9px;font-size:17px;color:#000;font-weight:normal;letter-spacing:0.55px;font-family:'Liberation Serif', 'Noto Serif CJK SC', serif;">PADD I RBOB</div>
<div class="t" style="left:143.3px;width:400px;text-align:center;top:646.7px;font-size:17px;color:#b03022;font-weight:bold;letter-spacing:0.4px;font-family:'Liberation Serif', 'Noto Serif CJK SC', serif;">-0.01</div>
<div class="t" style="right:410.5px;text-align:right;top:647.9px;font-size:17px;color:#000;font-weight:normal;letter-spacing:-0.15px;font-family:'Liberation Serif', 'Noto Serif CJK SC', serif;">22.1</div>
<div class="t" style="right:316.9px;text-align:right;top:647.9px;font-size:17px;color:#000;font-weight:normal;letter-spacing:-0.15px;font-family:'Liberation Serif', 'Noto Serif CJK SC', serif;">22.1</div>
<div class="t" style="left:439.3px;width:400px;text-align:center;top:647.9px;font-size:17px;color:#000;font-weight:normal;letter-spacing:-0.15px;font-family:'Liberation Serif', 'Noto Serif CJK SC', serif;">0.0%</div>
<div class="t" style="left:531.1px;width:400px;text-align:center;top:647.9px;font-size:17px;color:#000;font-weight:normal;letter-spacing:-0.15px;font-family:'Liberation Serif', 'Noto Serif CJK SC', serif;">-1.0</div>
<div class="t" style="left:619.9px;width:400px;text-align:center;top:647.9px;font-size:17px;color:#257f4b;font-weight:normal;letter-spacing:-0.15px;font-family:'Liberation Serif', 'Noto Serif CJK SC', serif;">+0.94</div>
<div class="t" style="left:56.7px;top:670.6px;font-size:17px;color:#000;font-weight:normal;letter-spacing:0.55px;font-family:'Liberation Serif', 'Noto Serif CJK SC', serif;"><span class="c">中西部</span><span style="display:inline-block;width:4.7px"></span>(PADD II)</div>
<div class="t" style="left:143.3px;width:400px;text-align:center;top:669.4px;font-size:17px;color:#257f4b;font-weight:bold;letter-spacing:0.4px;font-family:'Liberation Serif', 'Noto Serif CJK SC', serif;">+0.84</div>
<div class="t" style="right:410.5px;text-align:right;top:670.6px;font-size:17px;color:#000;font-weight:normal;letter-spacing:-0.15px;font-family:'Liberation Serif', 'Noto Serif CJK SC', serif;">51.0</div>
<div class="t" style="right:316.9px;text-align:right;top:670.6px;font-size:17px;color:#000;font-weight:normal;letter-spacing:-0.15px;font-family:'Liberation Serif', 'Noto Serif CJK SC', serif;">50.2</div>
<div class="t" style="left:439.3px;width:400px;text-align:center;top:670.6px;font-size:17px;color:#000;font-weight:normal;letter-spacing:-0.15px;font-family:'Liberation Serif', 'Noto Serif CJK SC', serif;">1.7%</div>
<div class="t" style="left:531.1px;width:400px;text-align:center;top:670.6px;font-size:17px;color:#000;font-weight:normal;letter-spacing:-0.15px;font-family:'Liberation Serif', 'Noto Serif CJK SC', serif;">+0.4</div>
<div class="t" style="left:619.9px;width:400px;text-align:center;top:670.6px;font-size:17px;color:#b03022;font-weight:normal;letter-spacing:-0.15px;font-family:'Liberation Serif', 'Noto Serif CJK SC', serif;">-0.73</div>
<div class="t" style="left:56.7px;top:693.3px;font-size:17px;color:#000;font-weight:normal;letter-spacing:0.55px;font-family:'Liberation Serif', 'Noto Serif CJK SC', serif;"><span class="c">美湾</span>(PADD III)</div>
<div class="t" style="left:143.3px;width:400px;text-align:center;top:692.1px;font-size:17px;color:#b03022;font-weight:bold;letter-spacing:0.4px;font-family:'Liberation Serif', 'Noto Serif CJK SC', serif;">-4.71</div>
<div class="t" style="right:410.5px;text-align:right;top:693.3px;font-size:17px;color:#000;font-weight:normal;letter-spacing:-0.15px;font-family:'Liberation Serif', 'Noto Serif CJK SC', serif;">80.5</div>
<div class="t" style="right:316.9px;text-align:right;top:693.3px;font-size:17px;color:#000;font-weight:normal;letter-spacing:-0.15px;font-family:'Liberation Serif', 'Noto Serif CJK SC', serif;">85.2</div>
<div class="t" style="left:439.3px;width:400px;text-align:center;top:693.3px;font-size:17px;color:#000;font-weight:normal;letter-spacing:-0.15px;font-family:'Liberation Serif', 'Noto Serif CJK SC', serif;">-5.5%</div>
<div class="t" style="left:531.1px;width:400px;text-align:center;top:693.3px;font-size:17px;color:#000;font-weight:normal;letter-spacing:-0.15px;font-family:'Liberation Serif', 'Noto Serif CJK SC', serif;">-11.1</div>
<div class="t" style="left:619.9px;width:400px;text-align:center;top:693.3px;font-size:17px;color:#b03022;font-weight:normal;letter-spacing:-0.15px;font-family:'Liberation Serif', 'Noto Serif CJK SC', serif;">-2.65</div>
<div class="t" style="left:56.7px;top:715.6px;font-size:17px;color:#000;font-weight:normal;letter-spacing:0.55px;font-family:'Liberation Serif', 'Noto Serif CJK SC', serif;"><span class="c">落基山脉</span><span style="display:inline-block;width:4.7px"></span>(PADD IV)</div>
<div class="t" style="left:143.3px;width:400px;text-align:center;top:714.4px;font-size:17px;color:#b03022;font-weight:bold;letter-spacing:0.4px;font-family:'Liberation Serif', 'Noto Serif CJK SC', serif;">-0.09</div>
<div class="t" style="right:410.5px;text-align:right;top:715.6px;font-size:17px;color:#000;font-weight:normal;letter-spacing:-0.15px;font-family:'Liberation Serif', 'Noto Serif CJK SC', serif;">6.0</div>
<div class="t" style="right:316.9px;text-align:right;top:715.6px;font-size:17px;color:#000;font-weight:normal;letter-spacing:-0.15px;font-family:'Liberation Serif', 'Noto Serif CJK SC', serif;">6.1</div>
<div class="t" style="left:439.3px;width:400px;text-align:center;top:715.6px;font-size:17px;color:#000;font-weight:normal;letter-spacing:-0.15px;font-family:'Liberation Serif', 'Noto Serif CJK SC', serif;">-1.5%</div>
<div class="t" style="left:531.1px;width:400px;text-align:center;top:715.6px;font-size:17px;color:#000;font-weight:normal;letter-spacing:-0.15px;font-family:'Liberation Serif', 'Noto Serif CJK SC', serif;">-1.5</div>
<div class="t" style="left:619.9px;width:400px;text-align:center;top:715.6px;font-size:17px;color:#b03022;font-weight:normal;letter-spacing:-0.15px;font-family:'Liberation Serif', 'Noto Serif CJK SC', serif;">-1.17</div>
<div class="t" style="left:56.7px;top:737.6px;font-size:17px;color:#000;font-weight:normal;letter-spacing:0.55px;font-family:'Liberation Serif', 'Noto Serif CJK SC', serif;"><span class="c">西海岸</span><span style="display:inline-block;width:4.7px"></span>(PADD V)</div>
<div class="t" style="left:143.3px;width:400px;text-align:center;top:736.4px;font-size:17px;color:#b03022;font-weight:bold;letter-spacing:0.4px;font-family:'Liberation Serif', 'Noto Serif CJK SC', serif;">-0.45</div>
<div class="t" style="right:410.5px;text-align:right;top:737.6px;font-size:17px;color:#000;font-weight:normal;letter-spacing:-0.15px;font-family:'Liberation Serif', 'Noto Serif CJK SC', serif;">28.9</div>
<div class="t" style="right:316.9px;text-align:right;top:737.6px;font-size:17px;color:#000;font-weight:normal;letter-spacing:-0.15px;font-family:'Liberation Serif', 'Noto Serif CJK SC', serif;">29.4</div>
<div class="t" style="left:439.3px;width:400px;text-align:center;top:737.6px;font-size:17px;color:#000;font-weight:normal;letter-spacing:-0.15px;font-family:'Liberation Serif', 'Noto Serif CJK SC', serif;">-1.5%</div>
<div class="t" style="left:531.1px;width:400px;text-align:center;top:737.6px;font-size:17px;color:#000;font-weight:normal;letter-spacing:-0.15px;font-family:'Liberation Serif', 'Noto Serif CJK SC', serif;">-0.6</div>
<div class="t" style="left:619.9px;width:400px;text-align:center;top:737.6px;font-size:17px;color:#b03022;font-weight:normal;letter-spacing:-0.15px;font-family:'Liberation Serif', 'Noto Serif CJK SC', serif;">-0.62</div>
<div class="t" style="left:256.1px;width:400px;text-align:center;top:783.3px;font-size:18px;color:#1f3b70;font-weight:bold;letter-spacing:2.2px;font-family:'Liberation Serif', 'Noto Serif CJK SC', serif;">汽油库存</div>
<div class="r" style="left:43.7px;top:825.8px;width:821.6px;height:23.2px;background:#2b567e"></div>
<div class="r" style="left:43.7px;top:849.3px;width:821.6px;height:21.3px;background:#bf9c69"></div>
<div class="r" style="left:44.7px;top:984.4px;width:246.5px;height:21.6px;background:#c6d9f0"></div>
<div class="r" style="left:295.6px;top:984.4px;width:94.8px;height:21.6px;background:#c6d9f0"></div>
<div class="r" style="left:394.8px;top:984.4px;width:469.0px;height:21.6px;background:#c6d9f0"></div>
<div class="r" style="left:291.5px;top:849.3px;width:1.0px;height:21.3px;background:#d8bc8e"></div>
<div class="r" style="left:294.3px;top:849.3px;width:1.0px;height:21.3px;background:#d8bc8e"></div>
<div class="r" style="left:390.7px;top:849.3px;width:1.0px;height:21.3px;background:#d8bc8e"></div>
<div class="r" style="left:393.5px;top:849.3px;width:1.0px;height:21.3px;background:#d8bc8e"></div>
<div class="r" style="left:43.7px;top:825.0px;width:821.6px;height:1.5px;background:#000"></div>
<div class="r" style="left:43.7px;top:848.2px;width:821.6px;height:1.5px;background:#000"></div>
<div class="r" style="left:43.7px;top:1073.5px;width:821.6px;height:1.5px;background:#000"></div>
<div class="r" style="left:43.0px;top:825.8px;width:1.4px;height:248.4px;background:#000"></div>
<div class="r" style="left:864.6px;top:825.8px;width:1.4px;height:248.4px;background:#000"></div>
<div class="r" style="left:292.5px;top:849.0px;width:1.8px;height:225.2px;background:#000"></div>
<div class="r" style="left:391.7px;top:849.0px;width:1.8px;height:225.2px;background:#000"></div>
<div class="r" style="left:43.7px;top:983.6px;width:821.6px;height:1.5px;background:#000"></div>
<div class="t" style="left:48.1px;top:824.9px;font-size:16px;color:#f4f8fc;font-weight:bold;letter-spacing:3.75px;font-family:'Liberation Serif', 'Noto Serif CJK SC', serif;">库存（百万桶）</div>
<div class="t" style="left:144.6px;width:400px;text-align:center;top:824.9px;font-size:16px;color:#f4f8fc;font-weight:bold;letter-spacing:3.2px;font-family:'Liberation Serif', 'Noto Serif CJK SC', serif;">环比变化</div>
<div class="t" style="right:405.4px;text-align:right;top:823.0px;font-size:17px;color:#f4f8fc;font-weight:normal;letter-spacing:2.6px;font-family:'Liberation Serif', 'Noto Serif CJK SC', serif;-webkit-text-stroke:0.3px #f4f8fc;">7/2</div>
<div class="t" style="right:311.1px;text-align:right;top:823.0px;font-size:17px;color:#f4f8fc;font-weight:normal;letter-spacing:2.6px;font-family:'Liberation Serif', 'Noto Serif CJK SC', serif;-webkit-text-stroke:0.3px #f4f8fc;">6/25</div>
<div class="t" style="left:442.0px;width:400px;text-align:center;top:824.9px;font-size:16px;color:#f4f8fc;font-weight:bold;letter-spacing:4px;font-family:'Liberation Serif', 'Noto Serif CJK SC', serif;">环比<span style="font-family:Liberation Mono, monospace;font-weight:normal">%</span></div>
<div class="t" style="left:533.5px;width:400px;text-align:center;top:824.9px;font-size:16px;color:#f4f8fc;font-weight:bold;letter-spacing:5px;font-family:'Liberation Serif', 'Noto Serif CJK SC', serif;">同比</div>
<div class="t" style="left:621.4px;width:400px;text-align:center;top:824.9px;font-size:16px;color:#f4f8fc;font-weight:bold;letter-spacing:2.75px;font-family:'Liberation Serif', 'Noto Serif CJK SC', serif;">较<span style="font-family:Liberation Mono, monospace;font-weight:normal">5</span>年平均</div>
<div class="t" style="left:47.9px;top:846.5px;font-size:15.5px;color:#fff8e8;font-weight:600;letter-spacing:3.3px;font-family:'Liberation Serif', 'Noto Serif CJK SC', serif;">馏分油</div>
<div class="t" style="left:143.2px;width:400px;text-align:center;top:845.7px;font-size:17px;color:#257f4b;font-weight:bold;letter-spacing:0.4px;font-family:'Liberation Serif', 'Noto Serif CJK SC', serif;">+1.62</div>
<div class="t" style="right:404.2px;text-align:right;top:845.7px;font-size:17px;color:#fff8e8;font-weight:bold;letter-spacing:0.5px;font-family:'Liberation Serif', 'Noto Serif CJK SC', serif;">138.7</div>
<div class="t" style="right:310.2px;text-align:right;top:845.7px;font-size:17px;color:#fff8e8;font-weight:bold;letter-spacing:0.5px;font-family:'Liberation Serif', 'Noto Serif CJK SC', serif;">137.1</div>
<div class="t" style="left:439.2px;width:400px;text-align:center;top:845.7px;font-size:17px;color:#fff8e8;font-weight:bold;letter-spacing:0.5px;font-family:'Liberation Serif', 'Noto Serif CJK SC', serif;">1.2%</div>
<div class="t" style="left:532.2px;width:400px;text-align:center;top:845.7px;font-size:17px;color:#fff8e8;font-weight:bold;letter-spacing:0.5px;font-family:'Liberation Serif', 'Noto Serif CJK SC', serif;">-38.6</div>
<div class="t" style="left:621.0px;width:400px;text-align:center;top:845.7px;font-size:17px;color:#fff8e8;font-weight:bold;letter-spacing:0.5px;font-family:'Liberation Serif', 'Noto Serif CJK SC', serif;">-7.7</div>
<div class="t" style="left:56.7px;top:869.3px;font-size:17px;color:#000;font-weight:normal;letter-spacing:0.55px;font-family:'Liberation Serif', 'Noto Serif CJK SC', serif;"><span class="c">东海岸</span><span style="display:inline-block;width:4.7px"></span>(PADD I)</div>
<div class="t" style="left:143.2px;width:400px;text-align:center;top:868.1px;font-size:17px;color:#b03022;font-weight:bold;letter-spacing:0.4px;font-family:'Liberation Serif', 'Noto Serif CJK SC', serif;">-0.01</div>
<div class="t" style="right:404.8px;text-align:right;top:869.3px;font-size:17px;color:#000;font-weight:normal;letter-spacing:-0.15px;font-family:'Liberation Serif', 'Noto Serif CJK SC', serif;">40.4</div>
<div class="t" style="right:310.9px;text-align:right;top:869.3px;font-size:17px;color:#000;font-weight:normal;letter-spacing:-0.15px;font-family:'Liberation Serif', 'Noto Serif CJK SC', serif;">40.5</div>
<div class="t" style="left:438.9px;width:400px;text-align:center;top:869.3px;font-size:17px;color:#000;font-weight:normal;letter-spacing:-0.15px;font-family:'Liberation Serif', 'Noto Serif CJK SC', serif;">0.0%</div>
<div class="t" style="left:531.9px;width:400px;text-align:center;top:869.3px;font-size:17px;color:#000;font-weight:normal;letter-spacing:-0.15px;font-family:'Liberation Serif', 'Noto Serif CJK SC', serif;">-26.4</div>
<div class="t" style="left:620.7px;width:400px;text-align:center;top:869.3px;font-size:17px;color:#000;font-weight:normal;letter-spacing:-0.15px;font-family:'Liberation Serif', 'Noto Serif CJK SC', serif;">-11.5</div>
<div class="t" style="left:56.7px;top:892.2px;font-size:17px;color:#000;font-weight:normal;letter-spacing:0.55px;font-family:'Liberation Serif', 'Noto Serif CJK SC', serif;"><span class="c">中西部</span><span style="display:inline-block;width:4.7px"></span>(PADD II)</div>
<div class="t" style="left:143.2px;width:400px;text-align:center;top:891.0px;font-size:17px;color:#257f4b;font-weight:bold;letter-spacing:0.4px;font-family:'Liberation Serif', 'Noto Serif CJK SC', serif;">+0.86</div>
<div class="t" style="right:404.8px;text-align:right;top:892.2px;font-size:17px;color:#000;font-weight:normal;letter-spacing:-0.15px;font-family:'Liberation Serif', 'Noto Serif CJK SC', serif;">31.9</div>
<div class="t" style="right:310.9px;text-align:right;top:892.2px;font-size:17px;color:#000;font-weight:normal;letter-spacing:-0.15px;font-family:'Liberation Serif', 'Noto Serif CJK SC', serif;">31.1</div>
<div class="t" style="left:438.9px;width:400px;text-align:center;top:892.2px;font-size:17px;color:#000;font-weight:normal;letter-spacing:-0.15px;font-family:'Liberation Serif', 'Noto Serif CJK SC', serif;">2.8%</div>
<div class="t" style="left:531.9px;width:400px;text-align:center;top:892.2px;font-size:17px;color:#000;font-weight:normal;letter-spacing:-0.15px;font-family:'Liberation Serif', 'Noto Serif CJK SC', serif;">-2.2</div>
<div class="t" style="left:620.7px;width:400px;text-align:center;top:892.2px;font-size:17px;color:#000;font-weight:normal;letter-spacing:-0.15px;font-family:'Liberation Serif', 'Noto Serif CJK SC', serif;">-0.2</div>
<div class="t" style="left:56.7px;top:914.8px;font-size:17px;color:#000;font-weight:normal;letter-spacing:0.55px;font-family:'Liberation Serif', 'Noto Serif CJK SC', serif;"><span class="c">美湾</span>(PADD III)</div>
<div class="t" style="left:143.2px;width:400px;text-align:center;top:913.6px;font-size:17px;color:#257f4b;font-weight:bold;letter-spacing:0.4px;font-family:'Liberation Serif', 'Noto Serif CJK SC', serif;">+1.37</div>
<div class="t" style="right:404.8px;text-align:right;top:914.8px;font-size:17px;color:#000;font-weight:normal;letter-spacing:-0.15px;font-family:'Liberation Serif', 'Noto Serif CJK SC', serif;">49.6</div>
<div class="t" style="right:310.9px;text-align:right;top:914.8px;font-size:17px;color:#000;font-weight:normal;letter-spacing:-0.15px;font-family:'Liberation Serif', 'Noto Serif CJK SC', serif;">48.3</div>
<div class="t" style="left:438.9px;width:400px;text-align:center;top:914.8px;font-size:17px;color:#000;font-weight:normal;letter-spacing:-0.15px;font-family:'Liberation Serif', 'Noto Serif CJK SC', serif;">2.8%</div>
<div class="t" style="left:531.9px;width:400px;text-align:center;top:914.8px;font-size:17px;color:#000;font-weight:normal;letter-spacing:-0.15px;font-family:'Liberation Serif', 'Noto Serif CJK SC', serif;">-8.8</div>
<div class="t" style="left:620.7px;width:400px;text-align:center;top:914.8px;font-size:17px;color:#000;font-weight:normal;letter-spacing:-0.15px;font-family:'Liberation Serif', 'Noto Serif CJK SC', serif;">+4.1</div>
<div class="t" style="left:56.7px;top:937.5px;font-size:17px;color:#000;font-weight:normal;letter-spacing:0.55px;font-family:'Liberation Serif', 'Noto Serif CJK SC', serif;"><span class="c">落基山脉</span><span style="display:inline-block;width:4.7px"></span>(PADD IV)</div>
<div class="t" style="left:143.2px;width:400px;text-align:center;top:936.3px;font-size:17px;color:#b03022;font-weight:bold;letter-spacing:0.4px;font-family:'Liberation Serif', 'Noto Serif CJK SC', serif;">-0.15</div>
<div class="t" style="right:404.8px;text-align:right;top:937.5px;font-size:17px;color:#000;font-weight:normal;letter-spacing:-0.15px;font-family:'Liberation Serif', 'Noto Serif CJK SC', serif;">3.5</div>
<div class="t" style="right:310.9px;text-align:right;top:937.5px;font-size:17px;color:#000;font-weight:normal;letter-spacing:-0.15px;font-family:'Liberation Serif', 'Noto Serif CJK SC', serif;">3.7</div>
<div class="t" style="left:438.9px;width:400px;text-align:center;top:937.5px;font-size:17px;color:#000;font-weight:normal;letter-spacing:-0.15px;font-family:'Liberation Serif', 'Noto Serif CJK SC', serif;">-4.0%</div>
<div class="t" style="left:531.9px;width:400px;text-align:center;top:937.5px;font-size:17px;color:#000;font-weight:normal;letter-spacing:-0.15px;font-family:'Liberation Serif', 'Noto Serif CJK SC', serif;">-0.9</div>
<div class="t" style="left:620.7px;width:400px;text-align:center;top:937.5px;font-size:17px;color:#000;font-weight:normal;letter-spacing:-0.15px;font-family:'Liberation Serif', 'Noto Serif CJK SC', serif;">-0.4</div>
<div class="t" style="left:56.7px;top:959.7px;font-size:17px;color:#000;font-weight:normal;letter-spacing:0.55px;font-family:'Liberation Serif', 'Noto Serif CJK SC', serif;"><span class="c">西海岸</span><span style="display:inline-block;width:4.7px"></span>(PADD V)</div>
<div class="t" style="left:143.2px;width:400px;text-align:center;top:958.5px;font-size:17px;color:#b03022;font-weight:bold;letter-spacing:0.4px;font-family:'Liberation Serif', 'Noto Serif CJK SC', serif;">-0.46</div>
<div class="t" style="right:404.8px;text-align:right;top:959.7px;font-size:17px;color:#000;font-weight:normal;letter-spacing:-0.15px;font-family:'Liberation Serif', 'Noto Serif CJK SC', serif;">13.1</div>
<div class="t" style="right:310.9px;text-align:right;top:959.7px;font-size:17px;color:#000;font-weight:normal;letter-spacing:-0.15px;font-family:'Liberation Serif', 'Noto Serif CJK SC', serif;">13.6</div>
<div class="t" style="left:438.9px;width:400px;text-align:center;top:959.7px;font-size:17px;color:#000;font-weight:normal;letter-spacing:-0.15px;font-family:'Liberation Serif', 'Noto Serif CJK SC', serif;">-3.3%</div>
<div class="t" style="left:531.9px;width:400px;text-align:center;top:959.7px;font-size:17px;color:#000;font-weight:normal;letter-spacing:-0.15px;font-family:'Liberation Serif', 'Noto Serif CJK SC', serif;">-0.3</div>
<div class="t" style="left:620.7px;width:400px;text-align:center;top:959.7px;font-size:17px;color:#000;font-weight:normal;letter-spacing:-0.15px;font-family:'Liberation Serif', 'Noto Serif CJK SC', serif;">+0.3</div>
<div class="t" style="left:46.5px;top:981.9px;font-size:17px;color:#000;font-weight:normal;letter-spacing:0.55px;font-family:'Liberation Serif', 'Noto Serif CJK SC', serif;">ULSD</div>
<div class="t" style="left:143.2px;width:400px;text-align:center;top:980.7px;font-size:17px;color:#257f4b;font-weight:bold;letter-spacing:0.4px;font-family:'Liberation Serif', 'Noto Serif CJK SC', serif;">+2.24</div>
<div class="t" style="right:404.8px;text-align:right;top:981.9px;font-size:17px;color:#000;font-weight:normal;letter-spacing:-0.15px;font-family:'Liberation Serif', 'Noto Serif CJK SC', serif;">126.4</div>
<div class="t" style="right:310.9px;text-align:right;top:981.9px;font-size:17px;color:#000;font-weight:normal;letter-spacing:-0.15px;font-family:'Liberation Serif', 'Noto Serif CJK SC', serif;">124.1</div>
<div class="t" style="left:438.9px;width:400px;text-align:center;top:981.9px;font-size:17px;color:#000;font-weight:normal;letter-spacing:-0.15px;font-family:'Liberation Serif', 'Noto Serif CJK SC', serif;">1.8%</div>
<div class="t" style="left:531.9px;width:400px;text-align:center;top:981.9px;font-size:17px;color:#000;font-weight:normal;letter-spacing:-0.15px;font-family:'Liberation Serif', 'Noto Serif CJK SC', serif;">-37.9</div>
<div class="t" style="left:620.7px;width:400px;text-align:center;top:981.9px;font-size:17px;color:#000;font-weight:normal;letter-spacing:-0.15px;font-family:'Liberation Serif', 'Noto Serif CJK SC', serif;">-5.1</div>
<div class="t" style="left:69.0px;top:1004.8px;font-size:17px;color:#000;font-weight:normal;letter-spacing:-0.01px;font-family:'Liberation Serif', 'Noto Serif CJK SC', serif;">Northeast ULSD</div>
<div class="t" style="left:143.2px;width:400px;text-align:center;top:1003.6px;font-size:17px;color:#b03022;font-weight:bold;letter-spacing:0.4px;font-family:'Liberation Serif', 'Noto Serif CJK SC', serif;">-0.00</div>
<div class="t" style="right:404.8px;text-align:right;top:1004.8px;font-size:17px;color:#000;font-weight:normal;letter-spacing:-0.15px;font-family:'Liberation Serif', 'Noto Serif CJK SC', serif;">25.6</div>
<div class="t" style="right:310.9px;text-align:right;top:1004.8px;font-size:17px;color:#000;font-weight:normal;letter-spacing:-0.15px;font-family:'Liberation Serif', 'Noto Serif CJK SC', serif;">25.6</div>
<div class="t" style="left:438.9px;width:400px;text-align:center;top:1004.8px;font-size:17px;color:#000;font-weight:normal;letter-spacing:-0.15px;font-family:'Liberation Serif', 'Noto Serif CJK SC', serif;">0.0%</div>
<div class="t" style="left:531.9px;width:400px;text-align:center;top:1004.8px;font-size:17px;color:#000;font-weight:normal;letter-spacing:-0.15px;font-family:'Liberation Serif', 'Noto Serif CJK SC', serif;">-22.6</div>
<div class="t" style="left:620.7px;width:400px;text-align:center;top:1004.8px;font-size:17px;color:#000;font-weight:normal;letter-spacing:-0.15px;font-family:'Liberation Serif', 'Noto Serif CJK SC', serif;">-7.5</div>
<div class="t" style="left:68.7px;top:1027.1px;font-size:17px;color:#000;font-weight:normal;letter-spacing:0.55px;font-family:'Liberation Serif', 'Noto Serif CJK SC', serif;">PADD III ULSD</div>
<div class="t" style="left:143.2px;width:400px;text-align:center;top:1025.9px;font-size:17px;color:#257f4b;font-weight:bold;letter-spacing:0.4px;font-family:'Liberation Serif', 'Noto Serif CJK SC', serif;">+1.74</div>
<div class="t" style="right:404.8px;text-align:right;top:1027.1px;font-size:17px;color:#000;font-weight:normal;letter-spacing:-0.15px;font-family:'Liberation Serif', 'Noto Serif CJK SC', serif;">42.7</div>
<div class="t" style="right:310.9px;text-align:right;top:1027.1px;font-size:17px;color:#000;font-weight:normal;letter-spacing:-0.15px;font-family:'Liberation Serif', 'Noto Serif CJK SC', serif;">41.0</div>
<div class="t" style="left:438.9px;width:400px;text-align:center;top:1027.1px;font-size:17px;color:#000;font-weight:normal;letter-spacing:-0.15px;font-family:'Liberation Serif', 'Noto Serif CJK SC', serif;">4.2%</div>
<div class="t" style="left:531.9px;width:400px;text-align:center;top:1027.1px;font-size:17px;color:#000;font-weight:normal;letter-spacing:-0.15px;font-family:'Liberation Serif', 'Noto Serif CJK SC', serif;">-9.7</div>
<div class="t" style="left:620.7px;width:400px;text-align:center;top:1027.1px;font-size:17px;color:#000;font-weight:normal;letter-spacing:-0.15px;font-family:'Liberation Serif', 'Noto Serif CJK SC', serif;">+3.3</div>
<div class="t" style="left:46.5px;top:1049.3px;font-size:17px;color:#000;font-weight:normal;letter-spacing:-0.1px;font-family:'Liberation Serif', 'Noto Serif CJK SC', serif;">Northeast &gt;500ppm</div>
<div class="t" style="left:143.2px;width:400px;text-align:center;top:1048.1px;font-size:17px;color:#b03022;font-weight:bold;letter-spacing:0.4px;font-family:'Liberation Serif', 'Noto Serif CJK SC', serif;">-0.30</div>
<div class="t" style="right:404.8px;text-align:right;top:1049.3px;font-size:17px;color:#000;font-weight:normal;letter-spacing:-0.15px;font-family:'Liberation Serif', 'Noto Serif CJK SC', serif;">1.5</div>
<div class="t" style="right:310.9px;text-align:right;top:1049.3px;font-size:17px;color:#000;font-weight:normal;letter-spacing:-0.15px;font-family:'Liberation Serif', 'Noto Serif CJK SC', serif;">1.8</div>
<div class="t" style="left:438.9px;width:400px;text-align:center;top:1049.3px;font-size:17px;color:#000;font-weight:normal;letter-spacing:-0.15px;font-family:'Liberation Serif', 'Noto Serif CJK SC', serif;">-17.0%</div>
<div class="t" style="left:531.9px;width:400px;text-align:center;top:1049.3px;font-size:17px;color:#000;font-weight:normal;letter-spacing:-0.15px;font-family:'Liberation Serif', 'Noto Serif CJK SC', serif;">-1.4</div>
<div class="t" style="left:620.7px;width:400px;text-align:center;top:1049.3px;font-size:17px;color:#000;font-weight:normal;letter-spacing:-0.15px;font-family:'Liberation Serif', 'Noto Serif CJK SC', serif;">-1.7</div>
<div class="r" style="left:592.4px;top:849.8px;width:5.8px;height:5.2px;background:#2a7a1a;clip-path:polygon(0 0,100% 0,0 100%)"></div>
<div class="t" style="left:256.1px;width:400px;text-align:center;top:1092.6px;font-size:18px;color:#1f3b70;font-weight:bold;letter-spacing:2.2px;font-family:'Liberation Serif', 'Noto Serif CJK SC', serif;">柴油库存</div>
<div class="t" style="right:30.0px;text-align:right;top:1128.9px;font-size:18.5px;color:#959595;font-weight:normal;letter-spacing:0px;font-family:'Liberation Sans', 'Noto Sans CJK SC', sans-serif;">资料来源：Bloomberg、兴业研究</div>
</body></html>
